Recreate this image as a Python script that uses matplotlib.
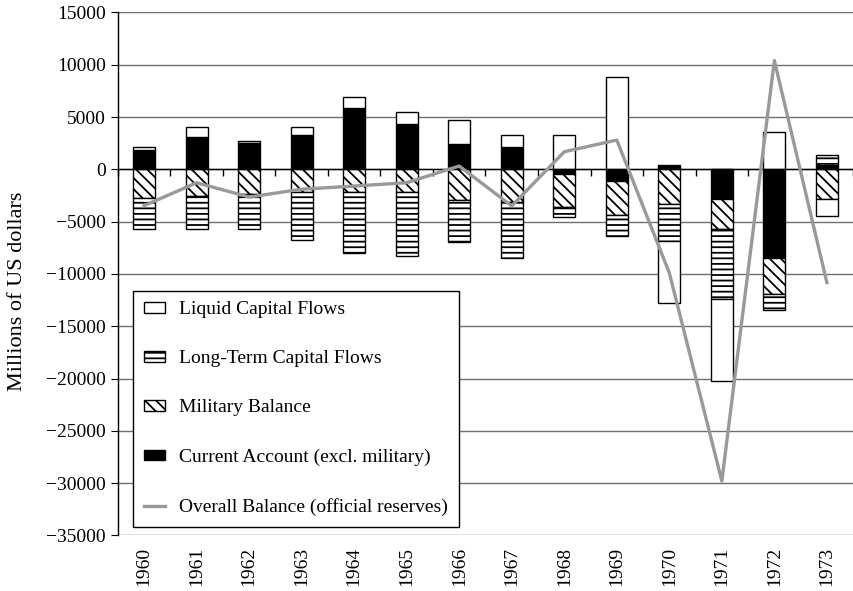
import matplotlib
matplotlib.use('Agg')
import matplotlib.pyplot as plt
import numpy as np

# US balance of payments components, millions of US dollars
years = ['1960', '1961', '1962', '1963', '1964', '1965', '1966',
         '1967', '1968', '1969', '1970', '1971', '1972', '1973']
current = [1840, 3110, 2540, 3280, 5820, 4330, 2420, 2130, -480, -1120, 410, -2840, -8440, 410]
military = [-2770, -2550, -2390, -2200, -2140, -2140, -2960, -3120, -3090, -3240, -3310, -2860, -3470, -2840]
longterm = [-2960, -3120, -3300, -4600, -5860, -6110, -4010, -5320, -985, -2010, -3510, -6720, -1530, 930]
liquid = [260, 900, 160, 730, 1110, 1170, 2290, 1170, 3275, 8840, -5980, -7800, 3530, -1620]
overall = [-3475, -1280, -2650, -1900, -1600, -1280, 315, -3500, 1680, 2800, -9900, -29800, 10400, -10830]

plt.rcParams['font.family'] = ['Liberation Serif', 'DejaVu Serif']
plt.rcParams['hatch.linewidth'] = 1.3

fig = plt.figure(figsize=(8.54, 5.91), dpi=100)
ax = fig.add_axes([0.138, 0.094, 0.861, 0.885])

x = np.arange(len(years))
pos_base = np.zeros(len(years))
neg_base = np.zeros(len(years))
series = [(current, 'black', None, 'Current Account (excl. military)'),
          (military, 'white', '\\\\\\', 'Military Balance'),
          (longterm, 'white', '---', 'Long-Term Capital Flows'),
          (liquid, 'white', None, 'Liquid Capital Flows')]
bars = {}
for vals, fc, hatch, label in series:
    v = np.array(vals, dtype=float)
    bottom = np.where(v >= 0, pos_base, neg_base)
    bars[label] = ax.bar(x, v, 0.42, bottom=bottom, color=fc, edgecolor='black',
                         hatch=hatch, linewidth=1.0, label=label, zorder=2)
    pos_base += np.clip(v, 0, None)
    neg_base += np.clip(v, None, 0)

line, = ax.plot(x, overall, color='#999999', lw=2.4, zorder=3,
                label='Overall Balance (official reserves)')

# zero axis with category boundary ticks
ax.axhline(0, color='black', lw=1.0, zorder=2.5)
ax.plot(np.arange(len(years) + 1) - 0.5, np.zeros(len(years) + 1), linestyle='none',
        marker=3, ms=5, mew=1.0, color='black', zorder=2.5, clip_on=False)

ax.set_xlim(-0.5, len(years) - 0.5)
ax.set_ylim(-35000, 15000)
ax.set_yticks(np.arange(-35000, 15001, 5000))
ax.yaxis.grid(True, color='#707070', lw=1.0)
ax.set_axisbelow(True)
for s in ['top', 'right', 'bottom']:
    ax.spines[s].set_visible(False)
ax.spines['left'].set_linewidth(1.0)

ax.set_xticks(x)
ax.set_xticklabels(years, rotation=90)
ax.tick_params(axis='x', length=0, pad=8, labelsize=14)
ax.tick_params(axis='y', direction='out', length=5, labelsize=14)
ax.set_ylabel('Millions of US dollars', fontsize=16)
ax.yaxis.set_label_coords(-0.123, 0.466)

handles = [bars['Liquid Capital Flows'], bars['Long-Term Capital Flows'],
           bars['Military Balance'], bars['Current Account (excl. military)'], line]
leg = ax.legend(handles=handles, loc='lower left', bbox_to_anchor=(0.021, 0.017),
                fontsize=14, frameon=True, fancybox=False, labelspacing=1.65,
                handlelength=1.1, handleheight=0.45, handletextpad=0.7, borderpad=0.55,
                borderaxespad=0)
leg.get_frame().set_edgecolor('black')
leg.get_frame().set_linewidth(1.0)
leg.get_frame().set_alpha(1)

fig.savefig('out.png', dpi=100)
